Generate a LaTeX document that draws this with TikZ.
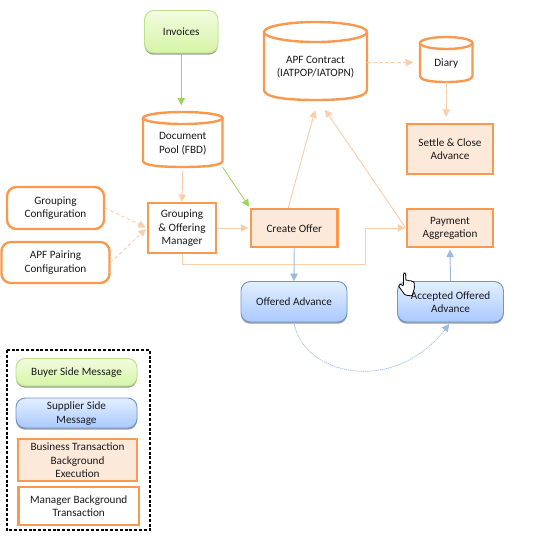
\documentclass[tikz,border=0pt]{standalone}
\usepackage{fontspec}
\setmainfont{Carlito}
\usetikzlibrary{arrows.meta,shadows,calc,positioning}
\definecolor{oborder}{HTML}{F9994F}
\definecolor{ofill}{HTML}{FDE9D9}
\definecolor{oline}{HTML}{FBCDA8}
\definecolor{gline}{HTML}{9BD55A}
\definecolor{bline}{HTML}{9DB9DF}
\definecolor{bborder}{HTML}{6F96CC}
\definecolor{txt}{HTML}{1A1A1A}
\definecolor{F1green}{HTML}{F3FBE0}
\definecolor{F2green}{HTML}{D5F5A6}
\definecolor{F1blue}{HTML}{E4EFFF}
\definecolor{F2blue}{HTML}{A9C9FF}
\tikzset{
  x=0.75pt,y=-0.75pt,
  every node/.style={font=\fontsize{8.4}{10.2}\selectfont,text=txt,align=center,inner sep=0pt},
  mgr/.style={draw=oborder,line width=1.8pt,fill=white},
  biz/.style={draw=oborder,line width=1.8pt,fill=ofill},
  cfg/.style={draw=oborder,line width=1.8pt,fill=white,rounded corners=7pt},
  greenbox/.style={draw=gline!70!white,line width=0.7pt,rounded corners=7pt,top color=F1green,bottom color=F2green,
     drop shadow={shadow xshift=0pt,shadow yshift=-1.3pt,fill=black!55,opacity=.7}},
  bluebox/.style={draw=bborder,line width=0.7pt,rounded corners=7pt,top color=F1blue,bottom color=F2blue,
     drop shadow={shadow xshift=0pt,shadow yshift=-1.3pt,fill=black!55,opacity=.7}},
  cyl/.style={draw=none,fill=none},
  cylline/.style={draw=oborder,line width=1.8pt,fill=white},
  tip/.style={-{Triangle[length=5.5pt,width=5.5pt]}},
  oarrow/.style={tip,color=oline,line width=0.7pt},
  oarrowd/.style={oarrow,dash pattern=on 2.5pt off 2pt},
  garrow/.style={tip,color=gline,line width=0.6pt},
  barrow/.style={tip,color=bline,line width=0.7pt},
}
% cylinder: #1 name, #2 left, #3 top, #4 right, #5 bottom, #6 ry, #7 text
\newcommand{\cylnode}[7]{%
  \draw[cylline] (#2,#3+#6) -- (#2,#5-#6)
     .. controls (#2,#5-0.3*#6) and (#2+0.2*#4-0.2*#2,#5) .. ({0.5*#2+0.5*#4},#5)
     .. controls (#2+0.8*#4-0.8*#2,#5) and (#4,#5-0.3*#6) .. (#4,#5-#6) -- (#4,#3+#6);
  \draw[cylline] ({0.5*#2+0.5*#4},#3+#6) ellipse [x radius={(#4-#2)/2*0.75pt},y radius={#6*0.75pt}];
  \path (#2,#3) coordinate (#1-nw) (#4,#5) coordinate (#1-se);
  \node[cyl,minimum width={(#4-#2)*0.75pt},minimum height={(#5-#3)*0.75pt}] (#1) at ({0.5*#2+0.5*#4},{0.5*#3+0.5*#5+0.5*#6}) {};
  \node at ($(#1)+(0,1)$) {#7};
}
% rectangular node: #1 style, #2 name, #3 left, #4 top, #5 right, #6 bottom, #7 text
\newcommand{\boxnode}[7]{%
  \node[#1,minimum width={(#5-#3)*0.75pt},minimum height={(#6-#4)*0.75pt}] (#2) at ({0.5*#3+0.5*#5},{0.5*#4+0.5*#6}) {};
  \node at ($(#2)+(0,0.3)$) {#7};
}
\begin{document}
\begin{tikzpicture}
\useasboundingbox[fill=white] (0,0) rectangle (535,543);
% main nodes
\boxnode{greenbox}{invoices}{144.5}{10.5}{218}{53}{Invoices}
\cylnode{apf}{264}{22}{367}{100}{10}{APF Contract\\(IATPOP/IATOPN)}
\cylnode{pool}{143}{112}{222.5}{167}{6}{Document\\Pool (FBD)}
\cylnode{diary}{420}{37}{472.5}{82}{6}{Diary}
\boxnode{biz}{settle}{407}{124}{493}{174}{Settle \& Close\\Advance}
\boxnode{cfg}{grpcfg}{7}{187}{104}{229}{Grouping\\Configuration}
\boxnode{cfg}{paircfg}{1.5}{242}{109.5}{283}{APF Pairing\\Configuration}
\boxnode{mgr}{mgrnode}{148}{203}{216}{253}{Grouping\\\& Offering\\Manager}
\boxnode{biz}{create}{251}{209}{337.5}{247}{Create Offer}
\boxnode{biz}{pay}{407}{209}{493}{247}{Payment\\Aggregation}
\boxnode{bluebox}{offered}{241}{281.5}{347}{322}{Offered Advance}
\boxnode{bluebox}{accepted}{397.5}{281.5}{503.5}{322}{Accepted Offered\\Advance}
% connectors
\draw[garrow,shorten >=5pt] (invoices.south) -- (invoices.south |- pool-nw);
\draw[oarrow] (pool.south) -- (mgrnode.north);
\draw[garrow,shorten >=1pt] (pool-se) -- (create.north west);
\draw[oarrow,shorten >=1.2pt] (mgrnode.east) -- (create.west);
\draw[oarrow,shorten >=4pt] ($(create.north)+(-6,0)$) -- ($(apf.south)+(1,0)$);
\draw[oarrow,shorten >=4pt] (pay.west) -- ($(apf.south)+(6.5,0)$);
\coordinate (elbow1) at ($(mgrnode.south)+(0,10)$);
\coordinate (elbow2) at ($(pay.west)+(-40,0)$);
\draw[oarrow,shorten >=0.5pt] (mgrnode.south) -- (elbow1) -- (elbow1 -| elbow2) -- (elbow2) -- (pay.west);
\draw[barrow] (create.south) -- (offered.north);
\draw[barrow,shorten >=1.2pt] (accepted.north) -- (pay.south);
\draw[tip,color=bline,line width=0.5pt,dash pattern=on 1pt off 0.6pt,shorten >=1.5pt] (offered.south) .. controls ($(offered.south)+(8,52)$) and ($(accepted.south)+(-58,74)$) .. (accepted.south);
\draw[oarrowd,shorten >=1pt] (grpcfg.east) -- (mgrnode.west);
\draw[oarrowd,shorten >=1pt] (paircfg.east) -- (mgrnode.west);
\draw[oarrowd,shorten >=5pt] (apf.east |- diary.west) -- (diary.west);
\draw[oarrow,shorten >=4.5pt] (diary.south |- diary-se) -- (diary.south |- settle.north);
% cursor
\draw[fill=white,line width=0.6pt,rounded corners=0.8pt,draw=black]
 (403.5,273) -- (405.5,273) -- (406,281) -- (407.5,279.5) -- (409,281.5) -- (410.5,280) -- (412,282) -- (414,281.5) -- (414.5,288) -- (412,296) -- (405,295) -- (398.5,286) -- (400,284) -- (403.5,286) -- cycle;
% legend
\draw[black,line width=0.8pt,dash pattern=on 2.2pt off 1.4pt] (7,350) rectangle (150,530);
\boxnode{greenbox}{lbuyer}{16}{358.5}{137}{386}{Buyer Side Message}
\boxnode{bluebox}{lsupplier}{16}{398}{137}{428}{Supplier Side\\Message}
\boxnode{biz}{lbiz}{18}{439}{137}{481}{Business Transaction\\Background\\Execution}
\boxnode{mgr}{lmgr}{18.5}{487}{139}{525}{Manager Background\\Transaction}
\end{tikzpicture}
\end{document}
